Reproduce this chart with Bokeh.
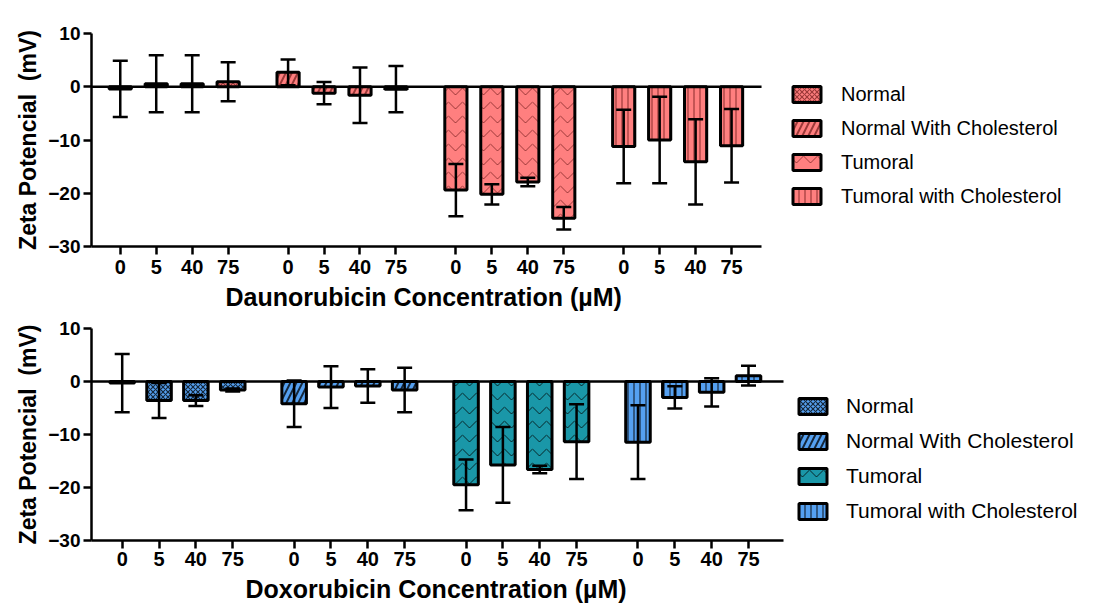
from bokeh.plotting import figure
from bokeh.models import (ColumnDataSource, Whisker, TeeHead, Legend, LegendItem,
                          FixedTicker, Range1d, Title)
from bokeh.layouts import column
from bokeh.embed import file_html
from bokeh.resources import INLINE

# ---------------- data ----------------
concentrations = ["0", "5", "40", "75"]
series_names = ["Normal", "Normal With Cholesterol", "Tumoral", "Tumoral with Cholesterol"]
y_ticks = [-30, -20, -10, 0, 10]

# Daunorubicin (mean, sd) in mV
dauno_normal_mean = [-0.4, 0.55, 0.55, 0.95]
dauno_normal_sd = [5.3, 5.35, 5.35, 3.65]
dauno_normal_chol_mean = [2.7, -1.2, -1.6, -0.45]
dauno_normal_chol_sd = [2.4, 2.1, 5.2, 4.35]
dauno_tumoral_mean = [-19.4, -20.2, -17.9, -24.7]
dauno_tumoral_sd = [4.9, 1.9, 0.8, 2.1]
dauno_tumoral_chol_mean = [-11.2, -10.0, -14.1, -11.1]
dauno_tumoral_chol_sd = [6.9, 8.1, 8.0, 6.9]

# Doxorubicin (mean, sd) in mV
doxo_normal_mean = [-0.3, -3.6, -3.6, -1.6]
doxo_normal_sd = [5.5, 3.3, 1.0, 0.3]
doxo_normal_chol_mean = [-4.2, -1.05, -0.85, -1.6]
doxo_normal_chol_sd = [4.4, 3.95, 3.15, 4.2]
doxo_tumoral_mean = [-19.5, -15.75, -16.6, -11.35]
doxo_tumoral_sd = [4.8, 7.15, 0.7, 7.05]
doxo_tumoral_chol_mean = [-11.45, -3.0, -2.05, 1.1]
doxo_tumoral_chol_sd = [6.95, 2.1, 2.65, 1.85]

# ---------------- styling ----------------
FONT = "Liberation Sans"
SLOT = 3      # spacing between concentrations (x units)
GROUP = 14    # spacing between groups (x units)
FIG_W = 1118

red_colors = ["#FF7F7F", "#FF7F7F", "#FF7F7F", "#FF7F7F"]
blue_colors = ["#55A0F0", "#55A0F0", "#1A97A8", "#55A0F0"]
hatches = [
    dict(hatch_pattern="diagonal_cross", hatch_scale=5, hatch_weight=1.2),
    dict(hatch_pattern="right_diagonal_line", hatch_scale=12, hatch_weight=2),
    dict(hatch_pattern="horizontal_wave", hatch_scale=14, hatch_weight=1.0),
    dict(hatch_pattern="vertical_line", hatch_scale=6, hatch_weight=1.2),
]


def make_panel(means, sds, colors, hatch_color, hatch_alpha, xlabel, height, left, top,
               bottom, axis_px, xr, bar_w, legend_font, legend_loc, legend_spacing,
               standoff, tick_standoff, xlabel_offset, xlabel_standoff):
    # the plotting frame spans to the right edge so that the legend can sit in it;
    # the x axis itself is bounded to the data extent xr (axis_px pixels long)
    units_per_px = (xr[1] - xr[0]) / axis_px
    x_end = xr[0] + (FIG_W - left) * units_per_px
    p = figure(width=FIG_W, height=height, x_range=Range1d(xr[0], x_end),
               y_range=Range1d(-30, 10),
               output_backend="svg", toolbar_location=None,
               min_border_left=left, min_border_right=0,
               min_border_top=top, min_border_bottom=bottom)
    p.xgrid.visible = False
    p.ygrid.visible = False
    p.outline_line_color = None
    p.background_fill_color = "white"
    p.border_fill_color = "white"

    # zero baseline across the axis extent
    p.line(x=list(xr), y=[0, 0], line_color="black", line_width=2.5)

    ticks = []
    overrides = {}
    items = []
    for k, name in enumerate(series_names):
        xs = [k * GROUP + i * SLOT for i in range(len(concentrations))]
        for x, lab in zip(xs, concentrations):
            ticks.append(x)
            overrides[x] = lab
        src = ColumnDataSource(dict(
            x=xs, top=means[k],
            upper=[m + s for m, s in zip(means[k], sds[k])],
            lower=[m - s for m, s in zip(means[k], sds[k])]))
        r = p.vbar(x="x", top="top", bottom=0, width=bar_w, source=src,
                   fill_color=colors[k], line_color="black", line_width=3,
                   hatch_color=hatch_color, hatch_alpha=hatch_alpha, **hatches[k])
        w = Whisker(base="x", upper="upper", lower="lower", source=src,
                    dimension="height", line_color="black", line_width=2.5,
                    upper_head=TeeHead(size=15, line_width=2.5, line_color="black"),
                    lower_head=TeeHead(size=15, line_width=2.5, line_color="black"),
                    level="annotation")
        p.add_layout(w)
        items.append(LegendItem(label=name, renderers=[r]))

    xa = p.xaxis[0]
    ya = p.yaxis[0]
    xa.bounds = tuple(xr)
    xa.ticker = FixedTicker(ticks=ticks)
    xa.major_label_overrides = overrides
    ya.ticker = FixedTicker(ticks=y_ticks)
    for ax in (xa, ya):
        ax.axis_line_width = 2.5
        ax.axis_line_color = "black"
        ax.major_tick_line_width = 2.5
        ax.major_tick_line_color = "black"
        ax.major_tick_out = 8
        ax.major_tick_in = 0
        ax.minor_tick_out = 0
        ax.minor_tick_in = 0
        ax.major_label_text_font = FONT
        ax.major_label_text_font_style = "bold"
        ax.major_label_text_color = "black"
    xa.major_label_text_font_size = "20px"
    ya.major_label_text_font_size = "19px"
    xa.major_label_standoff = tick_standoff
    ya.major_label_standoff = 3
    ya.axis_label = "Zeta Potencial \u00a0(mV)"
    ya.axis_label_text_font = FONT
    ya.axis_label_text_font_style = "bold"
    ya.axis_label_text_font_size = "23px"
    ya.axis_label_text_color = "black"
    ya.axis_label_standoff = 4

    # x-axis title, centred under the axis extent (not under the wider frame)
    p.add_layout(Title(text=xlabel, align="left", offset=xlabel_offset,
                       standoff=xlabel_standoff, text_font=FONT, text_font_style="bold",
                       text_font_size="25px", text_color="black"), "below")

    legend = Legend(items=items, location=legend_loc,
                    label_text_font=FONT, label_text_font_size=legend_font,
                    label_text_color="black",
                    glyph_width=35, glyph_height=20, label_height=20,
                    label_standoff=standoff, spacing=legend_spacing,
                    padding=2, margin=0, border_line_color=None,
                    background_fill_alpha=0)
    p.add_layout(legend)
    return p


p1 = make_panel(
    [dauno_normal_mean, dauno_normal_chol_mean, dauno_tumoral_mean, dauno_tumoral_chol_mean],
    [dauno_normal_sd, dauno_normal_chol_sd, dauno_tumoral_sd, dauno_tumoral_chol_sd],
    red_colors, "#4a0000", 0.55, "Daunorubicin Concentration (µM)",
    height=319, left=88, top=33, bottom=73, axis_px=672,
    xr=(-2.4, 53.5), bar_w=1.85, legend_font="20px", legend_loc=(698, 38.5),
    legend_spacing=11, standoff=17, tick_standoff=5, xlabel_offset=134,
    xlabel_standoff=9)

p2 = make_panel(
    [doxo_normal_mean, doxo_normal_chol_mean, doxo_tumoral_mean, doxo_tumoral_chol_mean],
    [doxo_normal_sd, doxo_normal_chol_sd, doxo_tumoral_sd, doxo_tumoral_chol_sd],
    blue_colors, "black", 0.75, "Doxorubicin Concentration (µM)",
    height=291, left=91, top=9, bottom=70, axis_px=692,
    xr=(-2.5, 53.85), bar_w=2.0, legend_font="21px", legend_loc=(704, 17.5),
    legend_spacing=11, standoff=16, tick_standoff=3, xlabel_offset=154,
    xlabel_standoff=8)

layout = column(p1, p2, spacing=0)
open("out.html", "w").write(file_html(layout, INLINE))
